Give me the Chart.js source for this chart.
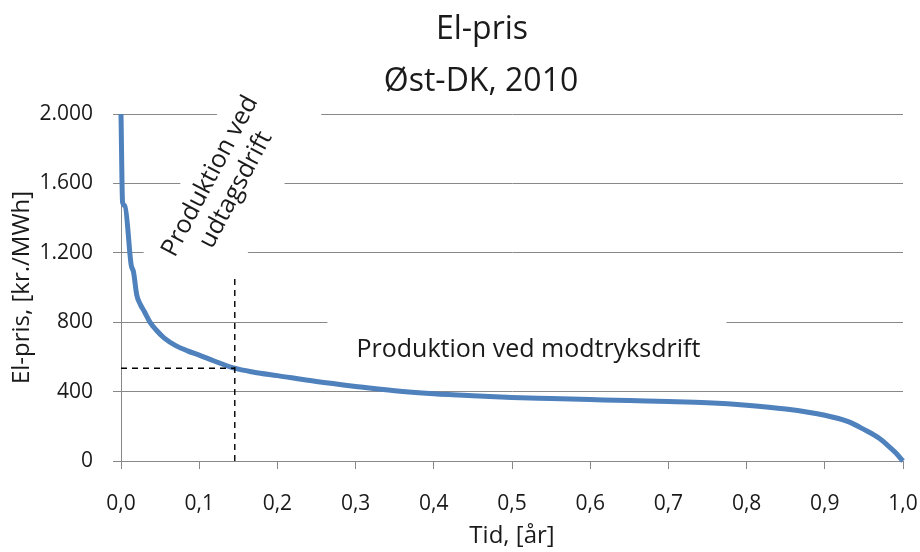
<!DOCTYPE html>
<html>
<head>
<meta charset="utf-8">
<script src="https://cdn.jsdelivr.net/npm/chart.js@4.4.0/dist/chart.umd.min.js"></script>
<style>
  html, body { margin: 0; padding: 0; background: #fff; }
</style>
</head>
<body>
<canvas id="elpris" width="920" height="552"></canvas>
<script>
// Varighedskurve for el-prisen, Øst-DK 2010 (andel af året, kr./MWh)
const timeShare = [0.000, 0.002, 0.005, 0.013, 0.016, 0.020, 0.025, 0.030, 0.037, 0.045,
                   0.055, 0.070, 0.085, 0.100, 0.120, 0.145, 0.170, 0.200, 0.250, 0.300,
                   0.350, 0.400, 0.450, 0.500, 0.550, 0.600, 0.650, 0.700, 0.750, 0.800,
                   0.850, 0.900, 0.930, 0.950, 0.970, 0.980, 0.990, 1.000];
const price = [2000, 1490, 1470, 1130, 1090, 960, 900, 860, 800, 755,
               710, 665, 635, 610, 575, 535, 512, 492, 458, 430,
               405, 388, 376, 366, 360, 354, 348, 343, 336, 322,
               300, 264, 227, 182, 130, 92, 50, 0];

// stiplet markering af skiftet mellem udtags- og modtryksdrift
const markerTime = 0.1455;
const markerPrice = 535;
const markerTop = 1065;

const xTicks = [0, 0.1, 0.2, 0.3, 0.4, 0.5, 0.6, 0.7, 0.8, 0.9, 1.0];
const yTicks = [0, 400, 800, 1200, 1600, 2000];

const titleLines = ['El-pris', 'Øst-DK, 2010'];
const upperNote = ['Produktion ved', 'udtagsdrift'];
const lowerNote = 'Produktion ved modtryksdrift';

const FONT = '"Open Sans", "DejaVu Sans", sans-serif';
const TEXT = '#1a1a1a';
const GRID = '#888888';

const notes = {
  id: 'notes',
  beforeDatasetsDraw(chart) {
    const { ctx, scales: { x, y } } = chart;

    // tekst med hvid baggrund, skjuler gitterlinjerne bag sig
    ctx.save();
    ctx.translate(x.getPixelForValue(0.122), y.getPixelForValue(1622));
    ctx.rotate(-62 * Math.PI / 180);
    ctx.fillStyle = '#fff';
    ctx.fillRect(-115, -30, 230, 92);
    ctx.fillStyle = TEXT;
    ctx.font = '25px ' + FONT;
    ctx.textAlign = 'center';
    ctx.textBaseline = 'alphabetic';
    ctx.fillText(upperNote[0], 0, 0);
    ctx.fillText(upperNote[1], 0, 29);
    ctx.restore();

    ctx.save();
    ctx.translate(x.getPixelForValue(0.521), y.getPixelForValue(600));
    ctx.fillStyle = '#fff';
    ctx.fillRect(-201, -39, 399, 64);
    ctx.fillStyle = TEXT;
    ctx.font = '25px ' + FONT;
    ctx.textAlign = 'center';
    ctx.textBaseline = 'alphabetic';
    ctx.fillText(lowerNote, 0, 0);
    ctx.restore();
  },
  afterDraw(chart) {
    const { ctx } = chart;
    ctx.save();
    ctx.fillStyle = TEXT;
    ctx.font = '32px ' + FONT;
    ctx.textAlign = 'center';
    ctx.textBaseline = 'alphabetic';
    ctx.fillText(titleLines[0], 482, 39);
    ctx.fillText(titleLines[1], 481, 91);
    ctx.restore();
  }
};

const ctx = document.getElementById('elpris').getContext('2d');

new Chart(ctx, {
  type: 'line',
  data: {
    datasets: [
      {
        data: [{ x: 0, y: markerPrice }, { x: markerTime, y: markerPrice }],
        borderColor: '#000',
        borderWidth: 1.4,
        borderDash: [6, 5],
        pointRadius: 0,
        order: 0,
      },
      {
        data: [{ x: markerTime, y: 0 }, { x: markerTime, y: markerTop }],
        borderColor: '#000',
        borderWidth: 1.4,
        borderDash: [6, 5],
        pointRadius: 0,
        order: 0,
      },
      {
        data: timeShare.map((t, i) => ({ x: t, y: price[i] })),
        borderColor: '#4f81bd',
        borderWidth: 5,
        pointRadius: 0,
        cubicInterpolationMode: 'monotone',
        clip: 6,
        order: 1,
      },
    ]
  },
  options: {
    responsive: false,
    animation: false,
    devicePixelRatio: 1,
    layout: { padding: { top: 114, right: 17, left: 0, bottom: 0 } },
    plugins: {
      legend: { display: false },
      tooltip: { enabled: false },
    },
    scales: {
      x: {
        type: 'linear',
        min: 0,
        max: 1,
        afterBuildTicks: s => { s.ticks = xTicks.map(v => ({ value: v })); },
        afterFit: s => { s.height = 91; s.paddingLeft = 0; s.paddingRight = 0; },
        grid: { drawOnChartArea: false, color: GRID, tickLength: 8 },
        border: { color: GRID },
        ticks: {
          padding: 22,
          color: TEXT,
          font: { family: FONT, size: 21 },
          maxRotation: 0,
          callback: v => v.toFixed(1).replace('.', ','),
        },
        title: {
          display: true,
          text: 'Tid, [år]',
          color: TEXT,
          font: { family: FONT, size: 24 },
          padding: { top: 0, bottom: 1 },
        },
      },
      y: {
        min: 0,
        max: 2000,
        afterBuildTicks: s => { s.ticks = yTicks.map(v => ({ value: v })); },
        afterFit: s => { s.width = 121; s.paddingTop = 0; s.paddingBottom = 0; },
        grid: { color: GRID, tickLength: 8 },
        border: { color: GRID },
        ticks: {
          padding: 20,
          color: TEXT,
          font: { family: FONT, size: 21 },
          callback: v => String(v).replace(/\B(?=(\d{3})+(?!\d))/g, '.'),
        },
        title: {
          display: true,
          text: 'El-pris, [kr./MWh]',
          color: TEXT,
          font: { family: FONT, size: 24 },
          padding: { top: 8, bottom: 0 },
        },
      },
    },
  },
  plugins: [notes],
});
</script>
</body>
</html>
